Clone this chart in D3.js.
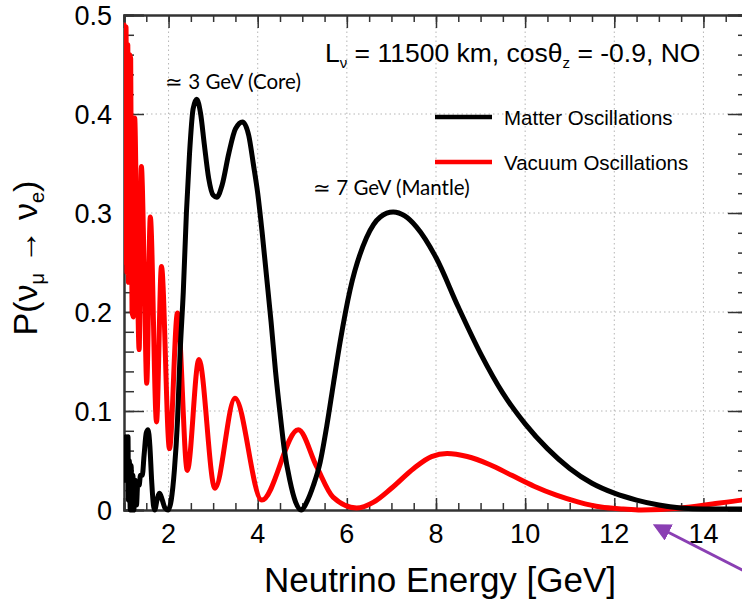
<!DOCTYPE html>
<html>
<head>
<meta charset="utf-8">
<script src="https://cdn.jsdelivr.net/npm/d3@7"></script>
<style>
  body { margin: 0; background: #fff; }
  text { font-family: "Liberation Sans", Arial, sans-serif; fill: #000; }
  .note { font-family: Lato, "Open Sans", sans-serif; }
</style>
</head>
<body>
<div id="chart"></div>
<script>
// tick labels
var energyTicks = [2, 4, 6, 8, 10, 12, 14];
var probTicks = [0, 0.1, 0.2, 0.3, 0.4, 0.5];

// matter oscillations (black)
var matterE = [1.00, 1.02, 1.04, 1.07, 1.09, 1.10, 1.12, 1.14, 1.16, 1.18, 1.20, 1.22, 1.25, 1.28, 1.31, 1.34, 1.37, 1.41, 1.45, 1.50,
  1.54, 1.58, 1.62, 1.66, 1.69, 1.74, 1.80, 1.86, 1.92, 1.99, 2.06, 2.13, 2.20, 2.26, 2.33, 2.40, 2.47, 2.55, 2.63, 2.72,
  2.80, 2.90, 3.00, 3.08, 3.20, 3.35, 3.50, 3.66, 3.80, 3.90, 4.00, 4.10, 4.20, 4.30, 4.40, 4.50, 4.60, 4.72, 4.85, 4.98,
  5.10, 5.25, 5.40, 5.55, 5.70, 5.85, 6.07, 6.44, 6.75, 7.04, 7.30, 7.56, 8.00, 8.50, 9.00, 9.50, 10.0, 10.5, 11.0,
  11.5, 12.0, 12.5, 13.0, 13.5, 14.0, 15.0];
var matterP = [0.054, 0.030, 0.074, 0.070, 0.074, 0.010, 0.050, 0.000, 0.045, 0.000, 0.035, 0.000, 0.030, 0.005, 0.028, 0.025, 0.035, 0.035, 0.055, 0.078,
  0.081, 0.065, 0.030, 0.005, 0.000, 0.010, 0.017, 0.010, 0.002, 0.000, 0.010, 0.040, 0.090, 0.160, 0.220, 0.300, 0.360, 0.405, 0.415, 0.400,
  0.370, 0.335, 0.318, 0.316, 0.328, 0.360, 0.385, 0.392, 0.378, 0.350, 0.320, 0.280, 0.235, 0.190, 0.140, 0.098, 0.060, 0.030, 0.008, 0.000,
  0.008, 0.025, 0.048, 0.085, 0.128, 0.170, 0.222, 0.275, 0.296, 0.301, 0.297, 0.286, 0.255, 0.205, 0.158, 0.118, 0.087, 0.062, 0.042,
  0.027, 0.017, 0.010, 0.005, 0.002, 0.001, 0.001];

// vacuum oscillations (red)
var vacuumE = [1.000, 1.005, 1.025, 1.045, 1.065, 1.085, 1.100, 1.125, 1.150, 1.180, 1.210, 1.240, 1.280, 1.340, 1.390, 1.450, 1.510, 1.590, 1.730, 1.840,
  2.020, 2.200, 2.420, 2.680, 3.040, 3.490, 4.090, 4.910, 5.320, 5.690, 6.220, 6.600, 7.000, 7.500, 7.900, 8.250, 8.700, 9.200, 9.700, 10.20,
  10.70, 11.20, 11.70, 12.20, 12.60, 13.50, 14.20, 14.86, 15.00];
var vacuumP = [0.340, 0.490, 0.250, 0.488, 0.240, 0.470, 0.230, 0.460, 0.456, 0.200, 0.195, 0.396, 0.300, 0.162, 0.347, 0.250, 0.128, 0.296, 0.089, 0.246,
  0.062, 0.199, 0.040, 0.152, 0.022, 0.113, 0.010, 0.081, 0.044, 0.013, 0.002, 0.008, 0.022, 0.042, 0.054, 0.057, 0.054, 0.046, 0.035, 0.024,
  0.015, 0.008, 0.003, 0.001, 0.000, 0.002, 0.006, 0.010, 0.011];

var width = 742, height = 601;
var margin = {left: 124, top: 15, right: -6, bottom: 91};

var x = d3.scaleLinear().domain([1, 15]).range([margin.left, width - margin.right]);
var y = d3.scaleLinear().domain([0, 0.5]).range([height - margin.bottom, margin.top]);

var svg = d3.select('#chart').append('svg')
  .attr('width', width)
  .attr('height', height);

svg.append('clipPath').attr('id', 'plot-clip')
  .append('rect')
  .attr('x', x(1)).attr('y', y(0.5) - 3)
  .attr('width', x(15) - x(1)).attr('height', y(0) - y(0.5) + 6);

// grid
var grid = svg.append('g').attr('class', 'grid');
grid.selectAll('.gx')
  .data(energyTicks)
  .enter().append('line')
  .attr('x1', function(d) { return x(d); })
  .attr('x2', function(d) { return x(d); })
  .attr('y1', y(0)).attr('y2', y(0.5))
  .style('stroke', '#b5b5b5').style('stroke-width', 1).style('stroke-dasharray', '1.5,3');
grid.selectAll('.gy')
  .data(probTicks.filter(function(d) { return d > 0 && d < 0.5; }))
  .enter().append('line')
  .attr('x1', x(1)).attr('x2', x(15))
  .attr('y1', function(d) { return y(d); })
  .attr('y2', function(d) { return y(d); })
  .style('stroke', '#b5b5b5').style('stroke-width', 1).style('stroke-dasharray', '1.5,3');

// axes: ticks inward on all four sides
var yMinor = d3.range(0, 0.5001, 0.02);
var xMinor = d3.range(1, 15.001, 0.5);

svg.append('g').attr('transform', 'translate(' + x(1) + ',0)')
  .call(d3.axisRight(y).tickValues(yMinor).tickSize(10).tickFormat(''));
svg.append('g').attr('transform', 'translate(' + x(1) + ',0)')
  .call(d3.axisRight(y).tickValues(probTicks).tickSize(20).tickFormat(''));
svg.append('g').attr('transform', 'translate(' + x(15) + ',0)')
  .call(d3.axisLeft(y).tickValues(yMinor).tickSize(10).tickFormat(''));
svg.append('g').attr('transform', 'translate(' + x(15) + ',0)')
  .call(d3.axisLeft(y).tickValues(probTicks).tickSize(20).tickFormat(''));
svg.append('g').attr('transform', 'translate(0,' + y(0) + ')')
  .call(d3.axisTop(x).tickValues(xMinor).tickSize(7).tickFormat(''));
svg.append('g').attr('transform', 'translate(0,' + y(0) + ')')
  .call(d3.axisTop(x).tickValues(energyTicks).tickSize(12).tickFormat(''));
svg.append('g').attr('transform', 'translate(0,' + y(0.5) + ')')
  .call(d3.axisBottom(x).tickValues(xMinor).tickSize(7).tickFormat(''));
svg.append('g').attr('transform', 'translate(0,' + y(0.5) + ')')
  .call(d3.axisBottom(x).tickValues(energyTicks).tickSize(13).tickFormat(''));

svg.selectAll('.domain').style('stroke', '#333').style('stroke-width', 2);
svg.selectAll('.tick line').style('stroke', '#333').style('stroke-width', 1.5);

// tick labels
svg.selectAll('.ylab')
  .data(probTicks)
  .enter().append('text')
  .attr('x', x(1) - 12)
  .attr('y', function(d) { return y(d) + 9.5; })
  .style('text-anchor', 'end')
  .style('font-size', '27px')
  .text(function(d) { return d === 0 ? '0' : d3.format('.1f')(d); });

svg.selectAll('.xlab')
  .data(energyTicks)
  .enter().append('text')
  .attr('x', function(d) { return x(d); })
  .attr('y', y(0) + 33)
  .style('text-anchor', 'middle')
  .style('font-size', '27px')
  .text(function(d) { return d; });

// curves
var line = d3.line()
  .x(function(d) { return x(d[0]); })
  .y(function(d) { return y(d[1]); })
  .curve(d3.curveMonotoneX);

var plot = svg.append('g').attr('clip-path', 'url(#plot-clip)');

plot.append('path')
  .datum(d3.zip(vacuumE, vacuumP))
  .attr('d', line)
  .style('fill', 'none').style('stroke', '#ff0000').style('stroke-width', 5)
  .style('stroke-linejoin', 'round');

plot.append('path')
  .datum(d3.zip(matterE, matterP))
  .attr('d', line)
  .style('fill', 'none').style('stroke', '#000').style('stroke-width', 5)
  .style('stroke-linejoin', 'round');

// axis titles
svg.append('text')
  .attr('x', 440).attr('y', 592)
  .style('text-anchor', 'middle')
  .style('font-size', '35px')
  .text('Neutrino Energy [GeV]');

var yt = svg.append('text')
  .attr('transform', 'translate(37,258) rotate(-90)')
  .style('text-anchor', 'middle')
  .style('font-size', '34px');
yt.append('tspan').text('P(\u03bd');
yt.append('tspan').attr('dy', 7).style('font-size', '20px').text('\u03bc');
yt.append('tspan').attr('dy', -7).style('font-weight', 'bold').text(' \u2192  ');
yt.append('tspan').text('\u03bd');
yt.append('tspan').attr('dy', 7).style('font-size', '20px').text('e');
yt.append('tspan').attr('dy', -7).text(')');

// header text
var hd = svg.append('text')
  .attr('x', 325).attr('y', 62)
  .style('font-size', '26.5px');
hd.append('tspan').text('L');
hd.append('tspan').attr('dy', 6).style('font-size', '15px').text('\u03bd');
hd.append('tspan').attr('dy', -6).text(' = 11500 km, cos\u03b8');
hd.append('tspan').attr('dy', 6).style('font-size', '15px').text('z');
hd.append('tspan').attr('dy', -6).text(' = -0.9, NO');

// legend
var legend = [
  {name: 'Matter Oscillations', color: '#000', y: 117},
  {name: 'Vacuum Oscillations', color: '#ff0000', y: 162}
];
var lg = svg.selectAll('.leg').data(legend).enter().append('g');
lg.append('line')
  .attr('x1', 435).attr('x2', 492)
  .attr('y1', function(d) { return d.y; }).attr('y2', function(d) { return d.y; })
  .style('stroke', function(d) { return d.color; }).style('stroke-width', 4.5);
lg.append('text')
  .attr('x', 504).attr('y', function(d) { return d.y + 8; })
  .style('font-size', '20.5px')
  .text(function(d) { return d.name; });

// annotations
svg.append('text').attr('class', 'note')
  .attr('x', 165).attr('y', 89)
  .style('font-size', '20.5px')
  .text('\u2243 3 GeV (Core)');
svg.append('text').attr('class', 'note')
  .attr('x', 313).attr('y', 195)
  .style('font-size', '20.5px')
  .text('\u2243 7 GeV (Mantle)');

// purple arrow
svg.append('defs').append('marker')
  .attr('id', 'head')
  .attr('viewBox', '0 0 10 10')
  .attr('refX', 8).attr('refY', 5)
  .attr('markerWidth', 6).attr('markerHeight', 6)
  .attr('orient', 'auto')
  .append('path').attr('d', 'M0,0L10,5L0,10z').style('fill', '#8a3fb3');
svg.append('line')
  .attr('x1', 748).attr('y1', 573)
  .attr('x2', 656).attr('y2', 526)
  .style('stroke', '#8a3fb3').style('stroke-width', 3)
  .attr('marker-end', 'url(#head)');
</script>
</body>
</html>
